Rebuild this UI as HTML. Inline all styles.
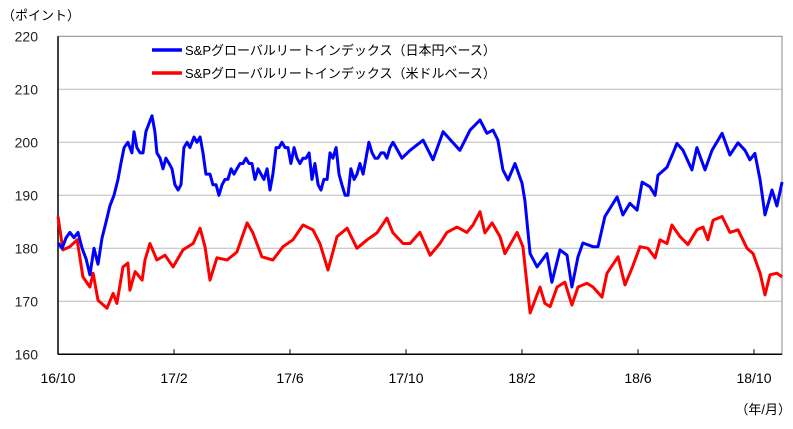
<!DOCTYPE html>
<html><head><meta charset="utf-8"><style>
body{margin:0;background:#fff;}
svg text{font-family:"Liberation Sans","Noto Sans CJK JP",sans-serif;}
</style></head><body>
<svg id="chart" width="793" height="424" viewBox="0 0 793 424" xmlns="http://www.w3.org/2000/svg"></svg>
<script>
const yTicks=[160,170,180,190,200,210,220];
const xTickLabels=["16/10","17/2","17/6","17/10","18/2","18/6","18/10"];
const xTickMonths=[0,4,8,12,16,20,24];
const blueMonths=[0,.14,.28,.41,.55,.69,.83,.97,1.10,1.24,1.38,1.52,1.66,1.79,1.93,2.07,2.17,2.28,2.41,2.55,2.62,2.72,2.83,2.93,3.03,3.17,3.24,3.34,3.41,3.52,3.62,3.72,3.83,3.93,4.03,4.14,4.24,4.34,4.45,4.55,4.69,4.79,4.90,5.00,5.10,5.24,5.34,5.45,5.55,5.66,5.76,5.86,5.97,6.07,6.17,6.28,6.38,6.48,6.59,6.69,6.79,6.90,7.00,7.10,7.21,7.31,7.41,7.52,7.62,7.72,7.83,7.93,8.03,8.14,8.24,8.34,8.45,8.55,8.66,8.76,8.86,8.97,9.07,9.17,9.28,9.38,9.48,9.59,9.69,9.79,9.90,10.00,10.10,10.21,10.31,10.41,10.52,10.62,10.72,10.83,10.93,11.03,11.14,11.24,11.34,11.45,11.55,11.66,11.76,11.86,12.14,12.59,12.93,13.28,13.62,13.86,14.21,14.55,14.79,15.00,15.17,15.34,15.52,15.76,16.00,16.10,16.28,16.52,16.86,17.03,17.31,17.55,17.72,17.93,18.10,18.45,18.62,18.86,19.28,19.48,19.72,19.97,20.14,20.41,20.59,20.69,21.00,21.21,21.34,21.55,21.86,22.03,22.31,22.55,22.90,23.17,23.45,23.69,23.86,24.03,24.21,24.38,24.62,24.79,24.97];
const blueValues=[181,180,182,183,182,183,180,178,175,180,177,182,185,188,190,193,196,199,200,198,202,199,198,198,202,204,205,202,198,197,195,197,196,195,192,191,192,199,200,199,201,200,201,198,194,194,192,192,190,192,193,193,195,194,195,196,196,197,196,196,193,195,194,193,195,191,194,199,199,200,199,199,196,199,197,196,197,197,198,193,196,192,191,193,193,198,197,199,194,192,190,190,195,193,194,196,194,197,200,198,197,197,198,198,197,199,200,199,198,197,198.5,200.4,196.7,202,199.9,198.5,202.3,204.2,201.7,202.3,200.4,194.8,192.9,196,192.3,189,179,176.5,179,173.6,179.7,178.7,172.7,178.4,181,180.3,180.3,186,189.7,186.3,188.5,187.2,192.5,191.6,190,193.8,195.3,198,199.8,198.5,194.8,199,194.8,198.5,201.7,197.6,199.9,198.5,196.7,197.9,192.9,186.3,191,188,192.5];
const redMonths=[0,.17,.41,.66,.86,1.10,1.21,1.38,1.69,1.90,2.03,2.24,2.41,2.48,2.66,2.90,3.00,3.17,3.41,3.69,3.97,4.31,4.66,4.90,5.07,5.24,5.48,5.83,6.17,6.52,6.72,7.03,7.41,7.76,8.10,8.45,8.79,9.03,9.31,9.62,9.97,10.31,10.66,11.00,11.34,11.55,11.90,12.14,12.48,12.83,13.17,13.41,13.76,14.10,14.31,14.55,14.72,14.97,15.24,15.41,15.83,16.03,16.28,16.45,16.62,16.79,16.97,17.21,17.48,17.72,17.93,18.24,18.45,18.76,18.93,19.31,19.55,19.79,20.07,20.34,20.59,20.76,21.00,21.17,21.45,21.72,22.03,22.24,22.41,22.59,22.90,23.17,23.45,23.76,23.97,24.21,24.38,24.55,24.79,24.97];
const redValues=[186,179.7,180.3,181.6,174.6,172.7,175.3,170.2,168.7,171.5,169.6,176.5,177.2,172.1,175.6,174,177.8,180.9,177.8,178.7,176.5,179.7,180.9,183.8,180.3,174,178.2,177.8,179.3,184.8,182.9,178.4,177.8,180.3,181.6,184.4,183.5,180.9,175.9,182.2,183.8,180,181.6,182.9,185.7,182.9,180.9,180.9,183,178.7,180.9,183,184,183,184.4,186.9,182.9,184.8,182.2,179,183,180.3,167.8,170.2,172.7,169.6,169,172.7,173.6,169.3,172.7,173.4,172.7,170.8,175.3,178.4,173.1,176.2,180.3,180,178.2,181.6,180.9,184.4,182.2,180.7,183.5,184,181.6,185.3,186,183,183.5,180,179,175.3,171.2,175,175.3,174.6];

const L=58,R=782,T=36.3,B=354.3;
const xs=m=>L+m*29;
const ys=v=>B-(v-160)*(B-T)/60;
const NS='http://www.w3.org/2000/svg';
const svg=document.getElementById('chart');
function mk(tag,attrs,parent){const e=document.createElementNS(NS,tag);for(const k in attrs)e.setAttribute(k,attrs[k]);(parent||svg).appendChild(e);return e;}
const frame=mk('rect',{x:L,y:T,width:R-L,height:B-T,fill:'none',stroke:'#888','stroke-width':1});


yTicks.forEach(v=>{
  if(v>160&&v<220){const g=mk('line',{x1:L,x2:R,y1:ys(v),y2:ys(v),stroke:'#bbb','stroke-width':1});
  
  }
  const t=mk('text',{x:38,y:ys(v)+5,'text-anchor':'end','font-size':14,fill:'#222'});
  t.textContent=v;
  
  
});
xTickLabels.forEach((lab,i)=>{
  const t=mk('text',{x:xs(xTickMonths[i]),y:383,'text-anchor':'middle','font-size':14,fill:'#000'});
  t.textContent=lab;
  
  
  const k=mk('line',{x1:xs(xTickMonths[i]),x2:xs(xTickMonths[i]),y1:B-5,y2:B,stroke:'#000'});
  
  
});
const ax=mk('line',{x1:L,x2:L,y1:T,y2:B,stroke:'#000','stroke-width':1.5});


const ax2=mk('line',{x1:L,x2:R,y1:B,y2:B,stroke:'#000','stroke-width':1.5});


function series(ms,vs,color,name){
  const d=ms.map((m,i)=>(i?'L':'M')+xs(m).toFixed(1)+','+ys(vs[i]).toFixed(1)).join('');
  const p=mk('path',{d:d,fill:'none',stroke:color,'stroke-width':3,'stroke-linejoin':'round'});
  
  
}
series(redMonths,redValues,'#ff0000','series-usd-line');
series(blueMonths,blueValues,'#0000ff','series-jpy-line');
const legendItems=[["#0000ff","S&Pグローバルリートインデックス（日本円ベース）",50],["#ff0000","S&Pグローバルリートインデックス（米ドルベース）",73]];
legendItems.forEach(it=>{
  const l=mk('line',{x1:152,x2:182,y1:it[2],y2:it[2],stroke:it[0],'stroke-width':3.5});
  
  
  const t=mk('text',{x:185,y:it[2]+5,'font-size':13,fill:'#000'});
  t.textContent=it[1];
  
  
});
const u=mk('text',{x:2,y:20,'font-size':13,fill:'#000'});
u.textContent='（ポイント）';


const xu=mk('text',{x:791,y:414,'text-anchor':'end','font-size':13,fill:'#000'});
xu.textContent='（年/月）';


</script>
</body></html>
